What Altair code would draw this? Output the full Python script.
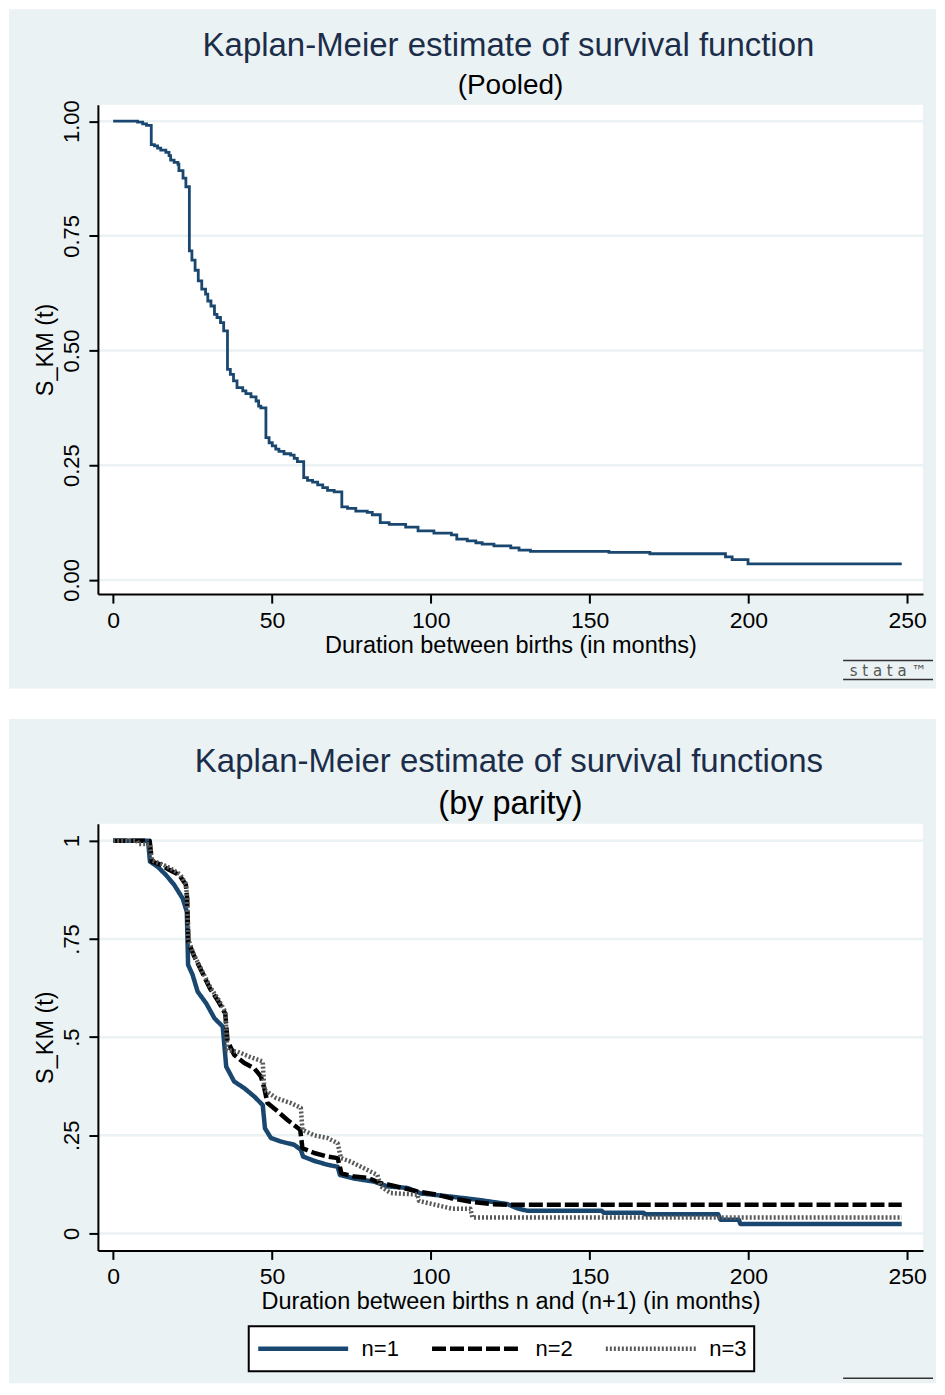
import altair as alt
import pandas as pd

# ---------------- data ----------------
pooled_time = [0, 7.7, 9.3, 10.5, 12.0, 13.0, 14.0, 15.0, 16.6, 17.6, 18.1, 19.2, 20.4, 20.7, 22.0, 22.9,
               24.0, 24.8, 25.8, 26.8, 27.9, 29.1, 29.8, 30.8, 31.9, 32.7, 33.8, 34.8, 36.0, 36.9, 37.9,
               39.0, 40.8, 41.8, 43.4, 45.0, 45.8, 46.5, 48.1, 49.1, 50.1, 51.2, 52.2, 53.8, 55.9, 57.0,
               58.0, 60.0, 61.2, 62.8, 64.4, 66.0, 67.5, 69.6, 72.0, 73.8, 76.4, 80.0, 81.6, 84.1, 86.9,
               92.1, 96.0, 101.0, 106.5, 108.2, 111.5, 114.2, 116.2, 119.9, 125.2, 127.8, 131.4, 156.1,
               169.0, 192.8, 194.9, 199.9, 248.3]
pooled_surv = [1.0, .998, .994, .991, .949, .946, .941, .937, .932, .925, .915, .910, .906, .892, .876, .857,
               .717, .697, .675, .652, .634, .623, .608, .597, .579, .572, .561, .543, .459, .448, .434,
               .419, .412, .406, .399, .390, .379, .375, .310, .299, .292, .285, .280, .275, .272, .265,
               .258, .223, .217, .213, .207, .201, .195, .192, .159, .156, .150, .147, .142, .125, .121,
               .115, .107, .102, .098, .089, .085, .081, .078, .074, .070, .065, .062, .060,
               .057, .050, .044, .035, .035]

# points (drawn as straight joins between read points)
n1_time = [0, 11.0, 11.6, 14.0, 16.6, 19.2, 21.9, 23.2, 23.6, 25.0, 26.6, 29.3, 31.9, 34.5, 35.6, 38.1,
           41.3, 44.4, 47.1, 47.8, 49.7, 52.9, 57.0, 59.1, 59.8, 63.3, 67.5, 70.7, 71.4, 75.9, 82.2, 86.4,
           92.7, 96.9, 106.3, 114.7, 124.1, 127.3, 130.4, 153.8, 154.5, 167.0, 167.6, 190.5, 191.2, 197.0,
           197.5, 248.3]
n1_surv = [1.0, 1.0, .947, .934, .913, .888, .853, .819, .684, .659, .616, .586, .548, .527, .425, .387,
           .370, .349, .327, .268, .243, .234, .226, .213, .196, .185, .175, .170, .149, .140, .132, .120,
           .116, .102, .094, .086, .075, .064, .058, .058, .053, .053, .049, .049, .035, .035,
           .024, .024]

n2_time = [0, 11.5, 12.2, 15.0, 17.6, 20.8, 22.9, 23.3, 23.7, 25.3, 27.9, 30.5, 33.2, 35.3, 36.0, 38.1,
           41.3, 44.4, 46.5, 47.6, 48.6, 51.8, 54.9, 58.9, 59.6, 63.3, 67.5, 70.7, 71.9, 75.9, 80.1, 84.3,
           86.4, 95.8, 102.0, 106.3, 112.6, 118.9, 125.2, 248.3]
n2_surv = [1.0, 1.0, .947, .939, .926, .913, .888, .853, .743, .710, .667, .624, .590, .560, .491, .455,
           .434, .421, .400, .370, .332, .311, .289, .264, .217, .205, .196, .192, .153, .145, .142, .128,
           .125, .107, .099, .090, .081, .075, .073, .073]

n3_time = [0, 7.5, 8.0, 11.5, 12.2, 15.5, 18.0, 21.0, 22.9, 23.3, 23.7, 25.3, 27.9, 30.5, 33.2, 35.3,
           36.0, 39.2, 43.0, 47.1, 47.6, 51.3, 56.0, 59.1, 59.6, 63.3, 67.5, 70.7, 71.7, 74.8, 79.0, 83.2,
           84.3, 87.4, 95.8, 96.3, 106.8, 112.5, 113.1, 248.3]
n3_surv = [1.0, 1.0, .992, .992, .950, .940, .930, .915, .890, .853, .748, .712, .670, .628, .595, .565,
           .467, .463, .450, .438, .366, .345, .332, .320, .264, .250, .243, .230, .192, .183, .166, .149,
           .120, .103, .099, .083, .063, .063, .041, .041]

series_names = ["n=1", "n=2", "n=3"]
x_ticks = [0, 50, 100, 150, 200, 250]
y_ticks = [0, 0.25, 0.5, 0.75, 1]
y_labels_top = ["0.00", "0.25", "0.50", "0.75", "1.00"]
y_labels_bottom = ["0", ".25", ".5", ".75", "1"]

title_top = "Kaplan-Meier estimate of survival function"
subtitle_top = "(Pooled)"
title_bottom = "Kaplan-Meier estimate of survival functions"
subtitle_bottom = "(by parity)"
y_title = "S_KM (t)"
x_title_top = "Duration between births (in months)"
x_title_bottom = "Duration between births n and (n+1) (in months)"
logo_text = "s t a t a \u2122"

# ---------------- style ----------------
FONT = "Liberation Sans"
BG = "#eaf2f3"
NAVY = "#1a476f"
TITLE_COLOR = "#1c2d4a"
PW = 826
TOP_H = 490
BOT_H = 427
X_DOMAIN = [-4.8, 255]
RIGHT = 839

one = pd.DataFrame({"k": [0]})
grid_df = pd.DataFrame({"surv": y_ticks})
pooled_df = pd.DataFrame({"time": pooled_time, "surv": pooled_surv})
parity_df = pd.concat([
    pd.DataFrame({"time": n1_time, "surv": n1_surv, "series": series_names[0]}),
    pd.DataFrame({"time": n2_time, "surv": n2_surv, "series": series_names[1]}),
    pd.DataFrame({"time": n3_time, "surv": n3_surv, "series": series_names[2]}),
], ignore_index=True)
parity_df["idx"] = range(len(parity_df))


def label_expr(values, labels):
    expr = "''"
    for v, l in reversed(list(zip(values, labels))):
        expr = f"(abs(datum.value - {v}) < 1e-6) ? '{l}' : ({expr})"
    return expr


def x_enc(title):
    return alt.X("time:Q", scale=alt.Scale(domain=X_DOMAIN, nice=False, zero=False),
                 axis=alt.Axis(values=x_ticks, title=title, grid=False, zindex=1,
                               domainColor="black", domainWidth=2, tickColor="black", tickWidth=2,
                               tickSize=9, labelFont=FONT, labelFontSize=23, labelColor="black",
                               labelPadding=6, labelFlush=False, labelOverlap=False,
                               titleFont=FONT, titleFontSize=23.5, titleFontWeight="normal",
                               titleColor="black", titlePadding=1))


def y_enc(domain, labels):
    return alt.Y("surv:Q", scale=alt.Scale(domain=domain, nice=False, zero=False),
                 axis=alt.Axis(values=y_ticks, labelExpr=label_expr(y_ticks, labels), title=y_title,
                               grid=False, zindex=1, domainColor="black", domainWidth=2,
                               tickColor="black", tickWidth=2, tickSize=9, labelFont=FONT,
                               labelFontSize=22, labelColor="black", labelAngle=270,
                               labelAlign="center", labelBaseline="bottom", labelPadding=5,
                               labelFlush=False, labelOverlap=False, titleFont=FONT,
                               titleFontSize=23.5, titleFontWeight="normal", titleColor="black",
                               titlePadding=3))


def background(y_top, y_bottom, h):
    bg = alt.Chart(one).mark_rect(color=BG).encode(
        x=alt.value(-89), x2=alt.value(RIGHT), y=alt.value(y_top), y2=alt.value(y_bottom))
    plot_bg = alt.Chart(one).mark_rect(color="white").encode(
        x=alt.value(0), x2=alt.value(PW), y=alt.value(0), y2=alt.value(h))
    return [bg, plot_bg]


def text_layer(txt, x, y, size, color):
    return alt.Chart(one).mark_text(text=txt, font=FONT, fontSize=size, color=color,
                                    align="center", baseline="middle").encode(
        x=alt.value(x), y=alt.value(y))


def rule_layer(x1, x2, y):
    return alt.Chart(one).mark_rule(color="#333333", strokeWidth=1.5).encode(
        x=alt.value(x1), x2=alt.value(x2), y=alt.value(y))


# ---------------- top panel ----------------
top_ydom = [-0.031, 1.036]
top_grid = alt.Chart(grid_df).mark_rule(color=BG, strokeWidth=2.5).encode(
    y=y_enc(top_ydom, y_labels_top), x=alt.value(0), x2=alt.value(PW))
top_line = alt.Chart(pooled_df).mark_line(interpolate="step-after", color=NAVY, strokeWidth=2.8).encode(
    x=x_enc(x_title_top), y=y_enc(top_ydom, y_labels_top))

top = alt.layer(
    *background(-95.5, 584.5, TOP_H),
    top_grid, top_line,
    text_layer(title_top, 411, -58.5, 33, TITLE_COLOR),
    text_layer(subtitle_top, 413, -18.5, 28, "black"),
    rule_layer(746, 836, 556.5),
    alt.Chart(one).mark_text(text=logo_text, font="DejaVu Sans", fontSize=15, color="#555555",
                             align="center", baseline="middle").encode(
        x=alt.value(791), y=alt.value(566.5)),
    rule_layer(746, 836, 575.5),
).properties(width=PW, height=TOP_H)

# ---------------- bottom panel ----------------
bot_ydom = [-0.043, 1.043]
legend = alt.Legend(orient="none", legendX=151, legendY=503, direction="horizontal", title=None,
                    symbolType="stroke", symbolSize=8100, clipHeight=31, padding=7,
                    labelOffset=11, columnPadding=30, fillColor="white", strokeColor="black",
                    labelFont=FONT, labelFontSize=22, labelColor="black")
bot_grid = alt.Chart(grid_df).mark_rule(color=BG, strokeWidth=2.5).encode(
    y=y_enc(bot_ydom, y_labels_bottom), x=alt.value(0), x2=alt.value(PW))
bot_lines = alt.Chart(parity_df).mark_line(strokeJoin="round").encode(
    x=x_enc(x_title_bottom), y=y_enc(bot_ydom, y_labels_bottom),
    order=alt.Order("idx:Q"),
    color=alt.Color("series:N", scale=alt.Scale(domain=series_names, range=[NAVY, "black", "#5a5a5a"]),
                    legend=legend),
    strokeDash=alt.StrokeDash("series:N", scale=alt.Scale(domain=series_names,
                                                          range=[[1, 0], [14, 4], [2, 2]]),
                              legend=legend),
    strokeWidth=alt.StrokeWidth("series:N", scale=alt.Scale(domain=series_names, range=[4.5, 4.5, 2]),
                                legend=legend),
)

bottom = alt.layer(
    *background(-105, 560, BOT_H),
    bot_grid, bot_lines,
    text_layer(title_bottom, 411.5, -62, 33, TITLE_COLOR),
    text_layer(subtitle_bottom, 413, -20, 32.5, "black"),
    rule_layer(746, 836, 555),
).properties(width=PW, height=BOT_H)

chart = alt.vconcat(top, bottom, spacing=29).resolve_scale(
    color="independent", strokeDash="independent", strokeWidth="independent"
).resolve_legend(
    color="independent", strokeDash="independent", strokeWidth="independent"
).properties(
    padding=0, background="white"
).configure_view(stroke="transparent").configure_legend(strokeWidth=2)

chart.save("out.html", embed_options={"renderer": "svg", "actions": False})
